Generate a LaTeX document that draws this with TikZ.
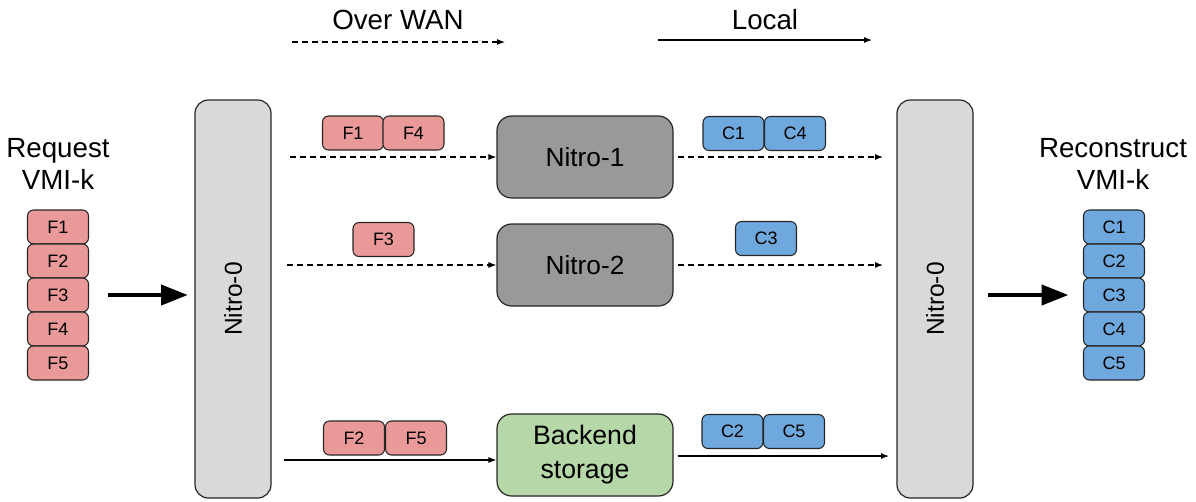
\documentclass[tikz,border=0pt]{standalone}
\usepackage{fontspec}
\setmainfont{Liberation Sans}
\usetikzlibrary{arrows.meta}
\definecolor{fred}{HTML}{EA9999}
\definecolor{cblue}{HTML}{6FA8DC}
\definecolor{pgray}{HTML}{D9D9D9}
\definecolor{dgray}{HTML}{999999}
\definecolor{bgreen}{HTML}{B6D7A8}
\begin{document}
\begin{tikzpicture}[x=0.75pt,y=-0.75pt,
  chunk/.style={draw=black!85, rounded corners=4.5pt, line width=0.8pt, minimum width=45.75pt, minimum height=25.5pt, inner sep=0pt, font=\fontsize{13.5pt}{15pt}\selectfont},
  fchunk/.style={chunk, fill=fred},
  cchunk/.style={chunk, fill=cblue},
  nitrobox/.style={draw=black!85, rounded corners=11pt, line width=0.9pt, minimum width=132pt, minimum height=61.5pt, inner sep=0pt, font=\fontsize{19.7pt}{24pt}\selectfont},
  pillar/.style={draw=black!85, fill=pgray, rounded corners=10pt, line width=0.9pt, rotate=90, minimum width=298.5pt, minimum height=57pt, inner sep=0pt, font=\fontsize{18.4pt}{21pt}\selectfont},
  lbl/.style={align=center, font=\fontsize{20.8pt}{24pt}\selectfont, inner sep=0pt},
  wan/.style={line width=0.8pt, dash pattern=on 4.5pt off 3pt, -{Latex[length=6pt,width=4.5pt]}},
  loc/.style={line width=0.8pt, -{Latex[length=6pt,width=4.5pt]}},
  bigarrow/.style={line width=3pt, -{Triangle[length=20pt,width=15pt]}}
]
\useasboundingbox (0,0) rectangle (1196,501);

% top legend
\node[lbl] (overwan) at (398,20) {Over WAN};
\node[lbl] (local) at (765,20) {Local};
\coordinate (wa) at (292,42); \coordinate (wb) at (505,42);
\coordinate (la) at (658,40); \coordinate (lb) at (872,40);
\draw[wan] (wa) -- (wb);
\draw[loc] (la) -- (lb);

% side labels
\node[lbl] (req) at (58,164) {Request\\VMI-k};
\node[lbl] (rec) at (1113,164) {Reconstruct\\VMI-k};

% left stack
\node[fchunk] (F1) at (58,227) {F1};
\node[fchunk] (F2) at (58,261) {F2};
\node[fchunk] (F3) at (58,295) {F3};
\node[fchunk] (F4) at (58,329) {F4};
\node[fchunk] (F5) at (58,363) {F5};

% right stack
\node[cchunk] (C1) at (1114,227) {C1};
\node[cchunk] (C2) at (1114,261) {C2};
\node[cchunk] (C3) at (1114,295) {C3};
\node[cchunk] (C4) at (1114,329) {C4};
\node[cchunk] (C5) at (1114,363) {C5};

% pillars
\node[pillar] (L0) at (233,299) {Nitro-0};
\node[pillar] (R0) at (935,299) {Nitro-0};

% middle boxes
\node[nitrobox, fill=dgray] (N1) at (585,157) {Nitro-1};
\node[nitrobox, fill=dgray] (N2) at (585,265) {Nitro-2};
\node[nitrobox, fill=bgreen, align=center, font=\fontsize{20pt}{25.5pt}\selectfont] (BS) at (585,455) {Backend\\storage};

% big arrows
\draw[bigarrow, shorten <=14pt, shorten >=5pt] (F3.east) -- (F3.east -| L0.north);
\draw[bigarrow, shorten <=11pt, shorten >=11pt] (R0.south |- C3.west) -- (C3.west);

% row 1
\coordinate (r1a) at (290,157); \coordinate (r1b) at (883,157);
\draw[wan] (r1a) -- (N1.west);
\draw[wan, shorten <=3pt] (N1.east) -- (r1b);
\node[fchunk] (rF1) at (353,133) {F1};
\node[fchunk] (rF4) at (413.5,133) {F4};
\node[cchunk] (rC1) at (733.5,133.5) {C1};
\node[cchunk] (rC4) at (795,133.5) {C4};

% row 2
\coordinate (r2a) at (287,265); \coordinate (r2b) at (883,265);
\draw[wan] (r2a) -- (N2.west);
\draw[wan, shorten <=3pt] (N2.east) -- (r2b);
\node[fchunk] (rF3) at (383.5,239.5) {F3};
\node[cchunk] (rC3) at (766,238.5) {C3};

% row 3
\coordinate (r3a) at (284,460); \coordinate (r3b) at (889,456);
\draw[loc] (r3a) -- (r3a -| BS.west);
\draw[loc, shorten <=3pt] (BS.east |- r3b) -- (r3b);
\node[fchunk] (rF2) at (354,438) {F2};
\node[fchunk] (rF5) at (416,438) {F5};
\node[cchunk] (rC2) at (732.5,431.5) {C2};
\node[cchunk] (rC5) at (794,431.5) {C5};
\end{tikzpicture}
\end{document}
